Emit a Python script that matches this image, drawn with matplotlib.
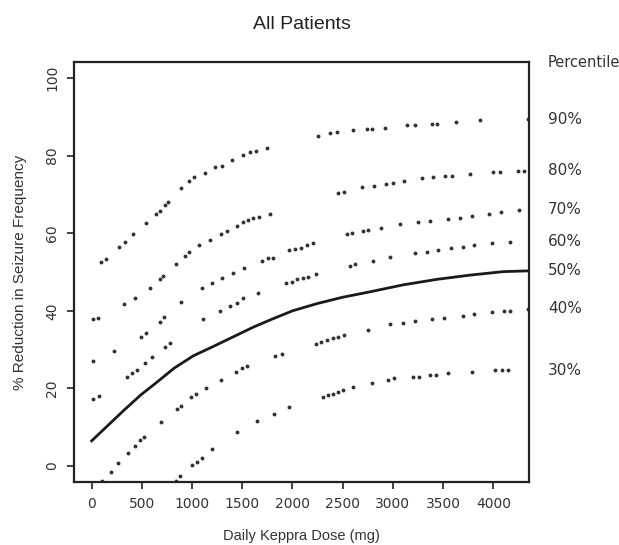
"""Percentiles of seizure-frequency reduction vs daily Keppra dose (All Patients)."""
import matplotlib
matplotlib.use("Agg")
import matplotlib.pyplot as plt
import numpy as np

# dosis (mg) y % de reduccion, por percentil
p90_dose = [96, 139, 272, 329, 414, 544, 637, 680, 727, 763, 893, 969, 1020, 1128,
            1228, 1295, 1400, 1510, 1577, 1636, 1743, 2257, 2373, 2440, 2606, 2739,
            2789, 2921, 3137, 3220, 3386, 3436, 3629, 3867, 4349]
p90_val = [52.5, 53.4, 56.5, 57.8, 59.7, 62.7, 65.0, 65.8, 67.2, 68.1, 71.7, 73.5, 74.4,
           75.6, 77.0, 77.4, 78.9, 80.1, 80.9, 81.2, 81.9, 85.0, 85.7, 86.0, 86.6, 86.8,
           86.8, 87.1, 87.9, 87.9, 88.1, 88.1, 88.7, 89.1, 89.4]

p80_dose = [16, 66, 322, 431, 581, 677, 707, 837, 929, 969, 1072, 1178, 1285, 1345, 1444,
            1504, 1554, 1610, 1669, 1776, 2456, 2516, 2689, 2812, 2931, 2998, 3114, 3287,
            3402, 3519, 3586, 3768, 4000, 4067, 4249, 4309]
p80_val = [37.8, 38.2, 41.8, 43.2, 45.8, 48.1, 49.0, 52.1, 54.1, 55.2, 57.0, 58.2, 59.7,
           60.6, 61.9, 63.0, 63.4, 63.8, 64.1, 65.0, 70.3, 70.7, 71.8, 72.2, 72.6, 72.9,
           73.5, 74.1, 74.4, 74.8, 74.8, 75.3, 75.7, 75.7, 76.1, 76.1]

p70_dose = [16, 222, 488, 538, 677, 720, 893, 1102, 1195, 1301, 1410, 1517, 1693, 1753,
            1809, 1968, 2025, 2085, 2148, 2201, 2539, 2590, 2706, 2755, 2881, 3071, 3253,
            3370, 3546, 3668, 3785, 3960, 4077, 4259]
p70_val = [27.1, 29.7, 33.3, 34.2, 37.2, 38.3, 42.2, 45.8, 47.1, 48.5, 49.8, 51.1, 52.8,
           53.5, 53.7, 55.7, 56.0, 56.3, 57.0, 57.4, 59.8, 60.1, 60.6, 60.8, 61.4, 62.4,
           62.8, 63.1, 63.6, 64.0, 64.5, 65.0, 65.4, 66.0]

p60_dose = [16, 73, 355, 398, 448, 531, 604, 730, 780, 1112, 1278, 1378, 1444, 1504, 1653,
            1935, 1992, 2048, 2102, 2157, 2234, 2573, 2622, 2805, 2971, 3220, 3337, 3452,
            3579, 3695, 3811, 3984, 4166]
p60_val = [17.3, 18.1, 23.0, 23.9, 24.7, 26.6, 28.0, 30.7, 31.6, 37.8, 40.0, 41.3, 42.1,
           43.2, 44.5, 47.1, 47.5, 48.1, 48.5, 48.8, 49.4, 51.5, 52.0, 52.9, 53.8, 54.8,
           55.2, 55.7, 56.1, 56.5, 57.0, 57.4, 57.8]

p50_dose = [0, 155, 322, 488, 654, 820, 1012, 1218, 1410, 1610, 1800, 2000, 2250, 2500,
            2772, 3104, 3436, 3768, 4100, 4355]
p50_val = [6.5, 10.3, 14.4, 18.3, 21.7, 25.2, 28.4, 30.9, 33.3, 35.8, 37.9, 40.0, 41.9,
           43.5, 44.9, 46.7, 48.1, 49.2, 50.1, 50.3]

p40_dose = [100, 189, 265, 365, 431, 481, 521, 693, 847, 886, 986, 1036, 1135, 1285, 1437,
            1494, 1544, 1826, 1892, 2234, 2284, 2341, 2400, 2450, 2513, 2749, 2971, 3097,
            3220, 3386, 3512, 3695, 3811, 3984, 4110, 4166, 4349]
p40_val = [-3.9, -1.5, 0.85, 3.4, 5.2, 6.7, 7.6, 11.4, 14.6, 15.5, 17.7, 18.7, 20.0, 22.2,
           24.3, 25.2, 25.8, 28.4, 28.9, 31.4, 32.0, 32.5, 32.9, 33.3, 33.8, 35.1, 36.5,
           36.9, 37.4, 37.8, 38.2, 38.7, 39.2, 39.6, 39.9, 39.9, 40.5]

p30_dose = [837, 880, 1002, 1052, 1102, 1201, 1444, 1650, 1816, 1968, 2307, 2357, 2406,
            2456, 2506, 2606, 2789, 2954, 3014, 3203, 3260, 3370, 3429, 3546, 3785, 4017,
            4084, 4150]
p30_val = [-3.8, -2.5, 0.4, 1.1, 2.2, 4.3, 8.8, 11.6, 13.3, 15.1, 17.9, 18.3, 18.7, 19.1,
           19.6, 20.3, 21.3, 22.2, 22.6, 23.0, 23.0, 23.5, 23.5, 23.9, 24.3, 24.7, 24.7,
           24.7]

punteados = [("90%", p90_dose, p90_val), ("80%", p80_dose, p80_val),
             ("70%", p70_dose, p70_val), ("60%", p60_dose, p60_val),
             ("40%", p40_dose, p40_val), ("30%", p30_dose, p30_val)]

fig = plt.figure(figsize=(6.19, 5.45), dpi=100)
ax = fig.add_axes([0.1195, 0.1156, 0.7351, 0.7706])

# percentiles como puntos sueltos, la mediana como linea continua
for _, d, v in punteados:
    ax.plot(d, v, "o", ms=2.8, mew=0, color="#333333")
ax.plot(p50_dose, p50_val, "-", lw=2.0, color="#1a1a1a")

ax.set_xlim(-176, 4355)
ax.set_ylim(-4.1, 104.1)
ax.set_xticks(np.arange(0, 4001, 500))
ax.set_yticks(np.arange(0, 101, 20))
for lab in ax.get_yticklabels():
    lab.set_rotation(90)
    lab.set_va("center")
ax.tick_params(direction="out", length=5, width=1.3, labelsize=10, pad=5.5,
               colors="#333333")
for lab in ax.get_xticklabels() + ax.get_yticklabels():
    lab.set_family("DejaVu Sans")
for s in ax.spines.values():
    s.set_linewidth(1.6)
    s.set_color("#222222")

ax.set_title("All Patients", fontsize=14, family="Liberation Sans", pad=24,
             color="#222222")
ax.set_xlabel("Daily Keppra Dose (mg)", fontsize=10.5, family="Liberation Sans",
              labelpad=13, color="#333333")
ax.set_ylabel("% Reduction in Seizure Frequency", fontsize=11,
              family="Liberation Sans", labelpad=13, color="#333333")

# etiquetas de percentil a la derecha, a la altura del final de cada curva
finales = [("90%", p90_val[-1]), ("80%", p80_val[-1]), ("70%", p70_val[-1]),
           ("60%", p60_val[-1]), ("50%", p50_val[-1]), ("40%", p40_val[-1]),
           ("30%", p30_val[-1])]
trans = ax.get_yaxis_transform()
ax.text(1.042, 103.9, "Percentile", transform=trans, fontsize=10.5,
        family="DejaVu Sans", va="center", ha="left", clip_on=False, color="#333333")
for txt, y in finales:
    ax.text(1.042, y, txt, transform=trans, fontsize=11, family="DejaVu Sans",
            va="center", ha="left", clip_on=False, color="#333333")

fig.savefig("out.png", dpi=100)
